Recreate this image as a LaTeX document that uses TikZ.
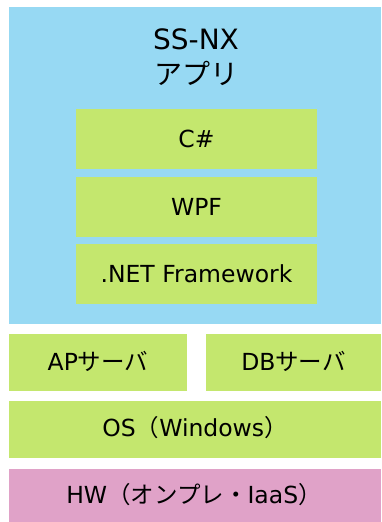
\documentclass[tikz,border=0pt]{standalone}
\usepackage{fontspec}
\setmainfont{DejaVu Sans}
\newfontfamily\jpfont{Noto Sans CJK JP}
\newcommand{\jp}[1]{{\jpfont #1}}
\definecolor{appblue}{RGB}{151,217,243}
\definecolor{layergreen}{RGB}{196,231,110}
\definecolor{hwpink}{RGB}{224,162,200}
\begin{document}
\begin{tikzpicture}[x=1pt,y=-1pt,
  lbl/.style={inner sep=0pt,font=\fontsize{23.5}{28}\selectfont},
  ttl/.style={inner sep=0pt,font=\fontsize{28}{34}\selectfont}]
\useasboundingbox (0,0) rectangle (381,522);
\fill[white] (0,0) rectangle (381,522);
% app box
\fill[appblue] (9,7) rectangle (381,324);
\node[ttl] (title) at (196,39) {SS-NX};
\node[ttl] (title2) at (196,73) {\jp{アプリ}};
% inner
\fill[layergreen] (76,109) rectangle (317,169);
\node[lbl] (cs) at (196.5,139) {C\#};
\fill[layergreen] (76,177) rectangle (317,237);
\node[lbl] (wpf) at (196.5,207) {WPF};
\fill[layergreen] (76,244) rectangle (317,304);
\node[lbl] (net) at (196.5,274) {.NET Framework};
% servers
\fill[layergreen] (9,334) rectangle (187,391);
\node[lbl] (ap) at (98,361) {AP\jp{サーバ}};
\fill[layergreen] (206,334) rectangle (381,391);
\node[lbl] (db) at (293.5,361) {DB\jp{サーバ}};
% OS
\fill[layergreen] (9,401) rectangle (381,458);
\node[lbl] (os) at (195,428) {OS\jp{（}Windows\jp{）}};
% HW
\fill[hwpink] (9,469) rectangle (381,522);
\node[lbl] (hw) at (194,495) {HW\jp{（オンプレ・}IaaS\jp{）}};
\end{tikzpicture}
\end{document}
